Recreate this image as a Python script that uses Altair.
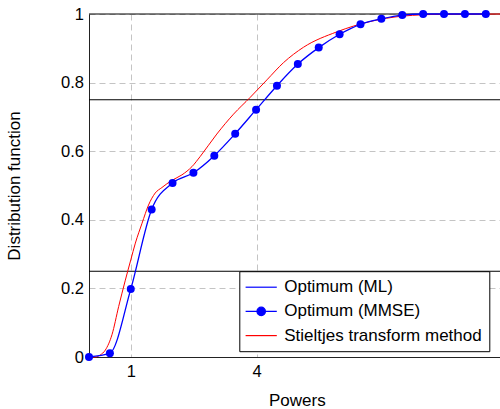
import altair as alt
import pandas as pd

# ---------------- data ----------------
SERIES = ["Optimum (ML)", "Optimum (MMSE)", "Stieltjes transform method"]
COLORS = ["#0000ff", "#0000ff", "#ff0000"]

# optimum curve, sampled at integer dB powers
mmse_db = [-2, -1, 0, 1, 2, 3, 4, 5, 6, 7, 8, 9, 10, 11, 12, 13, 14, 15, 16, 17]
mmse_cdf = [0.0, 0.011, 0.198, 0.43, 0.507, 0.537, 0.587, 0.651, 0.721, 0.791,
            0.854, 0.902, 0.941, 0.970, 0.986, 0.997, 1.0, 1.0, 1.0, 1.0]

# Stieltjes transform method curve
stj_db = [-2.0, -1.70, -1.46, -1.22, -0.90, -0.58, -0.26, 0.0, 0.22, 0.54, 0.85,
          1.17, 1.49, 1.97, 2.45, 2.93, 3.33, 4.12, 4.92, 5.72, 6.52, 7.31, 8.27,
          9.87, 11.46, 13.05, 14.81, 17.68]
stj_cdf = [0.0, 0.0, 0.006, 0.02, 0.065, 0.147, 0.224, 0.283, 0.332, 0.39, 0.443,
           0.478, 0.494, 0.515, 0.531, 0.555, 0.585, 0.650, 0.708, 0.757, 0.808,
           0.858, 0.903, 0.948, 0.978, 0.994, 0.999, 1.0]

ref_levels = [0.25, 0.75, 1.0]
x_ticks = [1, 4]
y_ticks = [0, 0.2, 0.4, 0.6, 0.8, 1]
x_domain_db = [-2.0, 17.68]


def to_power(db_values):
    return [10 ** (d / 10.0) for d in db_values]


ml_df = pd.DataFrame({"power": to_power(mmse_db), "cdf": mmse_cdf, "series": SERIES[0]})
mmse_df = pd.DataFrame({"power": to_power(mmse_db), "cdf": mmse_cdf, "series": SERIES[1]})
stj_df = pd.DataFrame({"power": to_power(stj_db), "cdf": stj_cdf, "series": SERIES[2]})
ref_df = pd.DataFrame({"level": ref_levels})

FONT = "Liberation Sans"

x_scale = alt.Scale(type="log", domain=to_power(x_domain_db), nice=False)
y_scale = alt.Scale(domain=[0, 1], nice=False)
color_scale = alt.Scale(domain=SERIES, range=COLORS)

x_axis = alt.Axis(values=x_ticks, format="~g", title="Powers", grid=True,
                  gridDash=[6, 4], gridColor="#c4c4c4", ticks=False,
                  labelPadding=6, labelFontSize=16.5, labelColor="black",
                  domainColor="#222222", titleFontSize=17, titleFontWeight="normal",
                  titleColor="black", titleX=207.8, titleY=48.5,
                  titleBaseline="alphabetic", titleAlign="center", labelFlush=False)
y_axis = alt.Axis(values=y_ticks, format="~g", title="Distribution function",
                  grid=True, gridDash=[6, 4], gridColor="#c4c4c4", ticks=False,
                  labelPadding=5.5, labelFontSize=16.5, labelColor="black",
                  domainColor="#222222", titleFontSize=17, titleFontWeight="normal",
                  titleColor="black", titleAngle=270, titleX=-75, titleY=171.5,
                  titleBaseline="middle", titleAlign="center")

line_path = "M-1.95,0L1.95,0"
dot_path = line_path + "M-0.53,0A0.53,0.53,0,1,1,0.53,0A0.53,0.53,0,1,1,-0.53,0Z"
sym_expr = "datum.value === '%s' ? '%s' : '%s'" % (SERIES[1], dot_path, line_path)

legend = alt.Legend(title=None, orient="none", legendX=150.3, legendY=257.2,
                    symbolType={"expr": sym_expr}, symbolSize=256,
                    symbolStrokeWidth=1.2, symbolFillColor="#0000ff",
                    symbolOpacity=1, symbolOffset=5.9, labelOffset=14.0,
                    labelFontSize=17, labelFont=FONT, labelColor="black",
                    labelLimit=0, padding=7, rowPadding=7.2,
                    strokeColor="black", fillColor="white", cornerRadius=0)

X = alt.X("power:Q", scale=x_scale, axis=x_axis)
Y = alt.Y("cdf:Q", scale=y_scale, axis=y_axis)
C = alt.Color("series:N", scale=color_scale, legend=legend)

rules = alt.Chart(ref_df).mark_rule(color="black", strokeWidth=1).encode(
    y=alt.Y("level:Q", scale=y_scale, axis=y_axis)
)

stj_line = alt.Chart(stj_df).mark_line(interpolate="monotone", strokeWidth=1.0).encode(
    x=X, y=Y, color=C
)

ml_line = alt.Chart(ml_df).mark_line(interpolate="monotone", strokeWidth=1.3).encode(
    x=X, y=Y, color=C
)

mmse_pts = alt.Chart(mmse_df).mark_point(filled=True, size=64, opacity=1, shape="circle").encode(
    x=X, y=Y, color=C
)

chart = alt.layer(rules, stj_line, ml_line, mmse_pts).properties(
    width=411, height=343,
    autosize=alt.AutoSizeParams(type="none"),
    padding={"left": 89, "top": 14, "right": 0, "bottom": 52},
).configure(font=FONT).configure_view(stroke=None)

chart.save("out.html", embed_options={"renderer": "svg", "actions": False})
